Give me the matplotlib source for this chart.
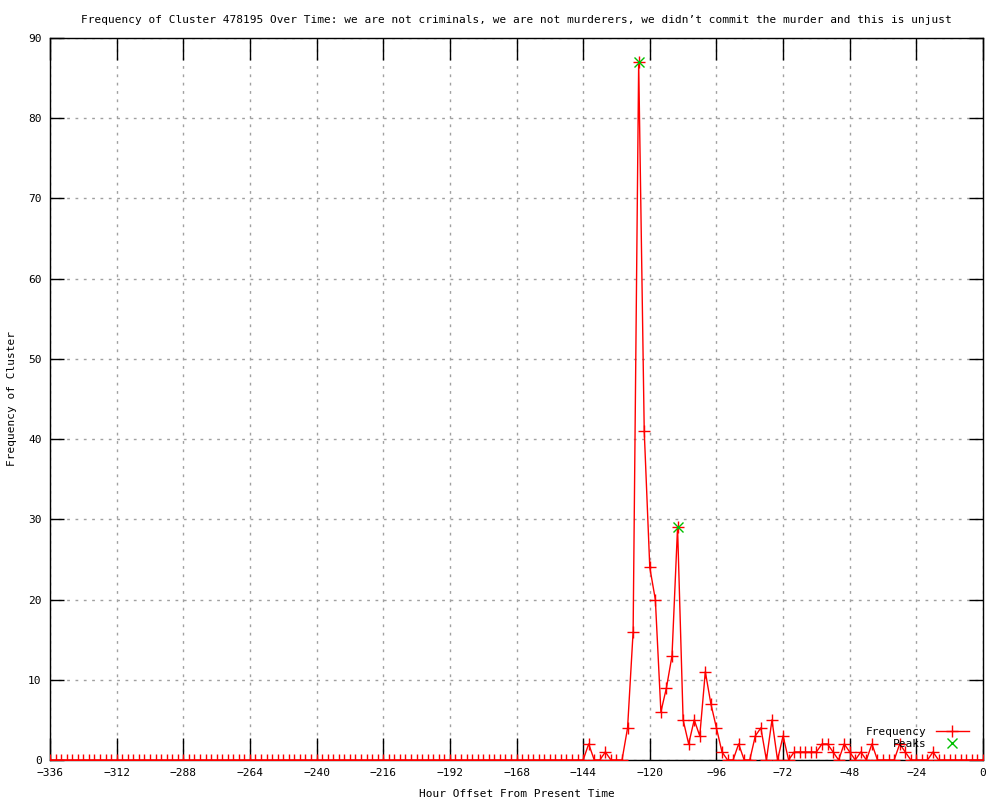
import matplotlib
matplotlib.use('Agg')
import matplotlib.pyplot as plt

hours = list(range(-336, 1, 2))

# non-zero counts, everything else is 0
nonzero = {
    -142: 2, -136: 1, -128: 4, -126: 16, -124: 87, -122: 41, -120: 24,
    -118: 20, -116: 6, -114: 9, -112: 13, -110: 29, -108: 5, -106: 2,
    -104: 5, -102: 3, -100: 11, -98: 7, -96: 4, -94: 1, -88: 2, -82: 3,
    -80: 4, -76: 5, -72: 3, -68: 1, -66: 1, -64: 1, -62: 1, -60: 1,
    -58: 2, -56: 2, -54: 1, -50: 2, -48: 1, -44: 1, -40: 2, -30: 2,
    -28: 1, -18: 1,
}
freq = [nonzero.get(h, 0) for h in hours]

peak_hours = [-124, -110]
peak_vals = [87, 29]

xticks = list(range(-336, 1, 24))
yticks = list(range(0, 91, 10))

plt.rcParams['font.family'] = ['DejaVu Sans Mono']

fig = plt.figure(figsize=(10, 8), dpi=100)
ax = fig.add_axes([0.05, 0.05, 0.933, 0.9025])

ax.plot(hours, freq, color='red', lw=1, marker='+', ms=8, mew=1,
        label='Frequency', zorder=3)
ax.plot(peak_hours, peak_vals, ls='none', marker='x', color='#00c000',
        ms=7, mew=1, label='Peaks', zorder=4)

ax.set_xlim(-336, 0)
ax.set_ylim(0, 90)
ax.set_xticks(xticks)
ax.set_yticks(yticks)
ax.set_xticklabels([str(t).replace('-', '\u2212') for t in xticks])
ax.tick_params(direction='in', width=1, top=True, right=True,
               labelsize=8, pad=6)
ax.tick_params(axis='x', length=16)
ax.tick_params(axis='y', length=10)
ax.grid(True, color='#a0a0a0', ls=(0, (2, 4)), lw=1)
for s in ax.spines.values():
    s.set_linewidth(1)

ax.set_title('Frequency of Cluster 478195 Over Time: we are not criminals, '
             'we are not murderers, we didn\u2019t commit the murder and this is unjust',
             fontsize=8, pad=11)
ax.set_xlabel('Hour Offset From Present Time', fontsize=8, labelpad=8)
ax.set_ylabel('Frequency of Cluster', fontsize=8, labelpad=8)

ax.legend(loc='lower right', frameon=False, markerfirst=False, fontsize=8,
          handlelength=3, borderaxespad=0.6, labelspacing=0.2,
          bbox_to_anchor=(0.997, 0.0))

fig.savefig('out.png', dpi=100)
